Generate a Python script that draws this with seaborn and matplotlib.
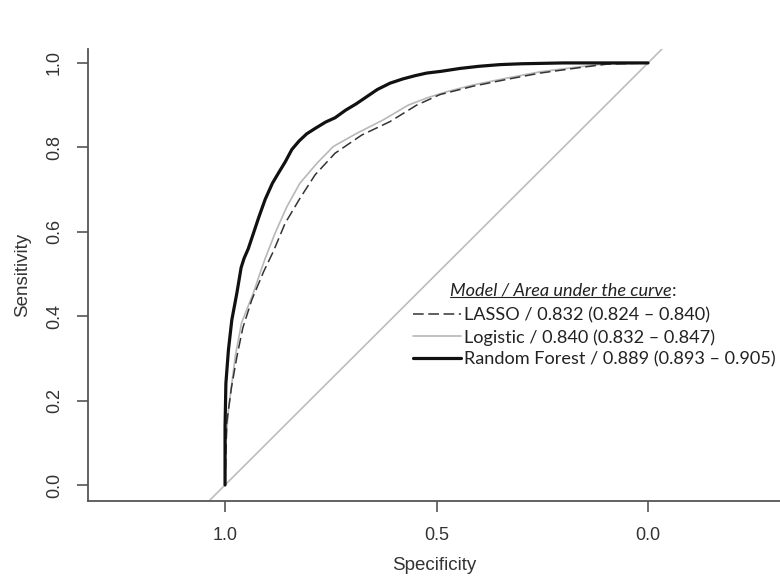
# ROC curves : LASSO / Logistic / Random Forest

import pandas as pd
import matplotlib.pyplot as plt
import seaborn as sns

# Data (specificity, sensitivity)
rf_spec = [1.0, 1.0, 0.998, 0.992, 0.984, 0.972, 0.962, 0.955, 0.945, 0.935, 0.920,
           0.905, 0.888, 0.872, 0.858, 0.842, 0.825, 0.807, 0.785, 0.762, 0.740,
           0.715, 0.690, 0.665, 0.640, 0.610, 0.580, 0.550, 0.523, 0.490, 0.444,
           0.400, 0.350, 0.300, 0.250, 0.200, 0.100, 0.0]
rf_sens = [0.0, 0.138, 0.241, 0.320, 0.391, 0.455, 0.515, 0.537, 0.560, 0.590, 0.635,
           0.677, 0.715, 0.742, 0.765, 0.795, 0.815, 0.832, 0.846, 0.860, 0.870,
           0.888, 0.903, 0.920, 0.937, 0.952, 0.962, 0.970, 0.976, 0.980, 0.987,
           0.992, 0.996, 0.998, 0.999, 1.0, 1.0, 1.0]

log_spec = [1.0, 0.998, 0.992, 0.984, 0.976, 0.961, 0.947, 0.933, 0.918, 0.905, 0.882,
            0.854, 0.823, 0.783, 0.744, 0.689, 0.626, 0.567, 0.520, 0.475, 0.444,
            0.413, 0.334, 0.255, 0.161, 0.098, 0.0]
log_sens = [0.0, 0.100, 0.178, 0.240, 0.304, 0.384, 0.420, 0.455, 0.500, 0.537, 0.596,
            0.659, 0.715, 0.762, 0.802, 0.833, 0.865, 0.900, 0.918, 0.932, 0.940,
            0.948, 0.964, 0.979, 0.991, 0.998, 1.0]

lasso_spec = [1.0, 0.996, 0.985, 0.972, 0.958, 0.937, 0.909, 0.886, 0.858, 0.823, 0.787,
              0.740, 0.677, 0.610, 0.547, 0.492, 0.413, 0.334, 0.255, 0.161, 0.098, 0.0]
lasso_sens = [0.0, 0.147, 0.230, 0.304, 0.372, 0.438, 0.505, 0.553, 0.620, 0.679, 0.735,
              0.786, 0.829, 0.861, 0.900, 0.925, 0.945, 0.961, 0.976, 0.989, 0.997, 1.0]

labels = ["LASSO / 0.832 (0.824 \u2013 0.840)",
          "Logistic / 0.840 (0.832 \u2013 0.847)",
          "Random Forest / 0.889 (0.893 \u2013 0.905)"]
x_ticks = [1.0, 0.5, 0.0]
y_ticks = [0.0, 0.2, 0.4, 0.6, 0.8, 1.0]

sns.set_theme(style="white")
plt.rcParams['font.family'] = ['Liberation Sans', 'DejaVu Sans']

fig = plt.figure(figsize=(7.8, 5.88), dpi=100)
ax = fig.add_axes([88 / 780, 87 / 588, 692 / 780, 452 / 588])

# chance line
ax.axline((1, 0), (0, 1), color="#bdbdbd", lw=1.2, zorder=1)

lasso = pd.DataFrame({"spec": lasso_spec, "sens": lasso_sens})
logit = pd.DataFrame({"spec": log_spec, "sens": log_sens})
rf = pd.DataFrame({"spec": rf_spec, "sens": rf_sens})

sns.lineplot(data=logit, x="spec", y="sens", sort=False, estimator=None,
             color="#b8b8b8", lw=1.2, ax=ax)
l_log = ax.lines[-1]
sns.lineplot(data=lasso, x="spec", y="sens", sort=False, estimator=None,
             color="#333333", lw=1.1, ax=ax)
l_lasso = ax.lines[-1]
l_lasso.set_dashes((7, 3))
sns.lineplot(data=rf, x="spec", y="sens", sort=False, estimator=None,
             color="#111111", lw=2.3, ax=ax)
l_rf = ax.lines[-1]

ax.set_xlim(1.324, -0.312)
ax.set_ylim(-0.038, 1.033)
ax.set_xticks(x_ticks)
ax.set_xticklabels(["%.1f" % t for t in x_ticks])
ax.set_yticks(y_ticks)
ax.set_yticklabels(["%.1f" % t for t in y_ticks], rotation=90, va="center")

sns.despine(ax=ax)
for s in ["left", "bottom"]:
    ax.spines[s].set_color("#555555")
    ax.spines[s].set_linewidth(1.3)
ax.tick_params(bottom=True, left=True, direction="out", length=8, width=1.2,
               color="#555555", labelsize=13, labelcolor="#333333")
ax.tick_params(axis="x", pad=11)
ax.tick_params(axis="y", pad=10)
ax.grid(False)

ax.set_xlabel("Specificity", fontsize=13.5, color="#333333", labelpad=9)
ax.set_ylabel("Sensitivity", fontsize=13.5, color="#333333", labelpad=11)

# legend
leg = ax.legend([l_lasso, l_log, l_rf], labels, loc="upper left",
                bbox_to_anchor=(0.470, 0.428), frameon=False, borderpad=0,
                borderaxespad=0, handlelength=2.6, handletextpad=0.2,
                labelspacing=0.3, prop={"family": "Lato", "size": 13.1})
for t in leg.get_texts():
    t.set_color("#222222")

title = ax.text(0.523, 0.465, "Model / Area under the curve", transform=ax.transAxes,
                family="Lato", style="italic", fontsize=13.1, color="#222222",
                va="center", ha="left")
fig.canvas.draw()
bb = title.get_window_extent().transformed(ax.transAxes.inverted())
ax.text(bb.x1, 0.465, ":", transform=ax.transAxes, family="Lato", fontsize=13.1,
        color="#222222", va="center", ha="left")
uy = bb.y0 + 0.004
ax.plot([bb.x0, bb.x1 - 0.002], [uy, uy], transform=ax.transAxes, color="#222222",
        lw=0.8, clip_on=False)

fig.savefig("out.png", dpi=100)
